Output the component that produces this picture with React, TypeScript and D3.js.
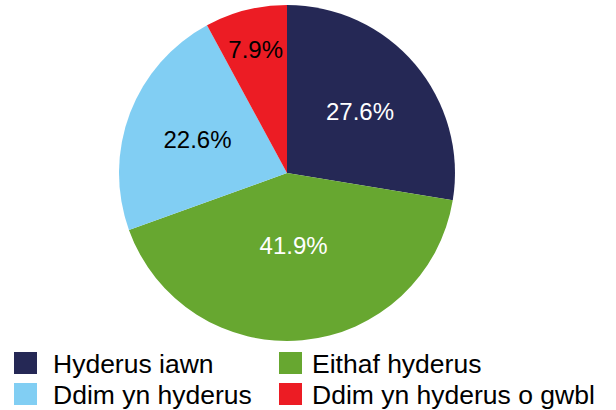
import React, { useEffect, useRef } from "react";
import * as d3 from "d3";

const categories = ["Hyderus iawn", "Eithaf hyderus", "Ddim yn hyderus", "Ddim yn hyderus o gwbl"];
const values = [27.6, 41.9, 22.6, 7.9];
const colors = ["#252855", "#67a730", "#81cef3", "#ec1c24"];
const labelColors = ["#ffffff", "#ffffff", "#000000", "#000000"];
// label distance from centre, as a share of the radius (Excel "best fit")
const labelRadius = [0.57, 0.43, 0.57, 0.76];

const W = 616;
const H = 410;
const FONT = "Liberation Sans, Arial, sans-serif";

const App = () => {
  const ref = useRef<SVGSVGElement>(null);

  useEffect(() => {
    const svg = d3.select(ref.current);
    svg.selectAll("*").remove();

    const cx = 287;
    const cy = 173;
    const r = 168;

    const pie = d3.pie<number>().sort(null).value(d => d);
    const arcs = pie(values);
    const arc = d3.arc<d3.PieArcDatum<number>>().innerRadius(0).outerRadius(r);

    const g = svg.append("g").attr("transform", `translate(${cx},${cy})`);

    g.selectAll("path")
      .data(arcs)
      .enter()
      .append("path")
      .attr("d", arc)
      .attr("fill", (d, i) => colors[i]);

    g.selectAll("text")
      .data(arcs)
      .enter()
      .append("text")
      .attr("transform", (d, i) => {
        const a = (d.startAngle + d.endAngle) / 2;
        const lr = r * labelRadius[i];
        return `translate(${Math.sin(a) * lr},${-Math.cos(a) * lr})`;
      })
      .attr("text-anchor", "middle")
      .attr("dy", "0.36em")
      .attr("font-family", FONT)
      .attr("font-size", 24)
      .attr("fill", (d, i) => labelColors[i])
      .text(d => `${d.data.toFixed(1)}%`);

    // legend, two columns
    const legend = svg.append("g");
    const colX = [14, 279];
    const textX = [39, 33];
    const rowY = [352, 383];
    const item = legend.selectAll("g")
      .data(categories)
      .enter()
      .append("g")
      .attr("transform", (d, i) => `translate(${colX[i % 2]},${rowY[Math.floor(i / 2)]})`);

    item.append("rect")
      .attr("width", 23)
      .attr("height", 22)
      .attr("fill", (d, i) => colors[i]);

    item.append("text")
      .attr("x", (d, i) => textX[i % 2])
      .attr("y", 21)
      .attr("font-family", FONT)
      .attr("font-size", 26.5)
      .attr("fill", "#000")
      .text(d => d);
  }, []);

  return (
    <svg
      ref={ref}
      width={W}
      height={H}
      style={{ position: "absolute", left: 0, top: 0, background: "#fff" }}
    />
  );
};

export default App;
